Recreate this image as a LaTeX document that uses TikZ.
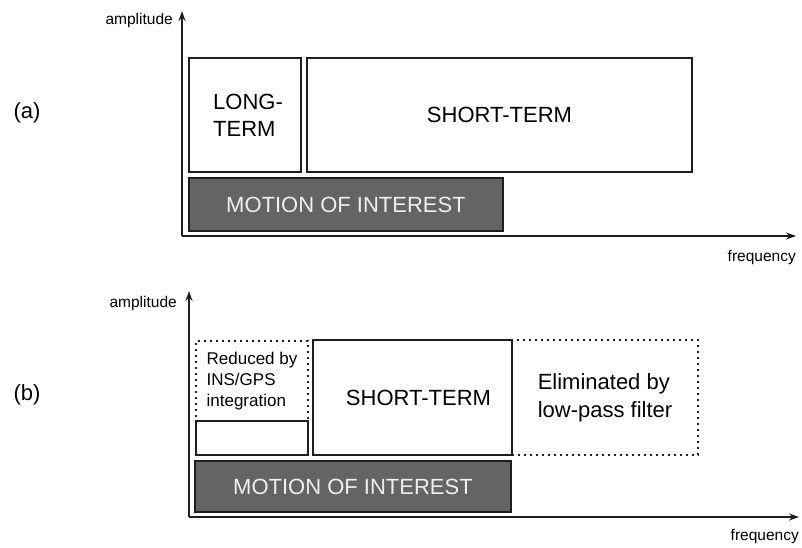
\documentclass[tikz,border=0pt]{standalone}
\usepackage{fontspec}
\setmainfont{Liberation Sans}
\usetikzlibrary{arrows.meta}
\definecolor{boxline}{HTML}{1E1E1E}
\definecolor{motionfill}{HTML}{646464}
\definecolor{motiontext}{HTML}{F0F0F0}
\begin{document}
\begin{tikzpicture}[x=1pt,y=-1pt,
  band/.style={draw=boxline,line width=1.5pt,fill=white,inner sep=0pt,
    font=\fontsize{22}{27}\selectfont,align=center},
  dotband/.style={draw=boxline,line width=1.6pt,dash pattern=on 1.6pt off 4.4pt,
    inner sep=0pt},
  motion/.style={draw=boxline,line width=1.5pt,fill=motionfill,text=motiontext,
    inner sep=0pt,font=\fontsize{22}{27}\selectfont},
  axis/.style={draw=boxline,line width=1.5pt,-{Stealth[length=10pt,width=7pt]}},
  axlabel/.style={font=\fontsize{15.5}{19}\selectfont,inner sep=0pt},
  panel/.style={font=\fontsize{22}{26}\selectfont,inner sep=0pt}]
\useasboundingbox (0,0) rectangle (802,547);

% ---------- panel (a) ----------
\node[panel] (pa) at (27,113) {(a)};
\coordinate (oa) at (182,236);
\coordinate (ya) at (182,11);
\coordinate (xa) at (796,236);
\draw[axis] (oa) -- (ya);
\draw[axis] (oa) -- (xa);
\node[axlabel,anchor=east] (ampa) at (173,20) {amplitude};
\node[axlabel,anchor=east] (freqa) at (796,257) {frequency};

\node[band,minimum width=112,minimum height=114,align=left] (longa) at (245,115)
  {\hspace*{6pt}LONG-\\\hspace*{6pt}TERM};
\node[band,minimum width=385,minimum height=114] (shorta) at (499.5,115) {SHORT-TERM};
\node[motion,minimum width=314,minimum height=53] (mota) at (346,204.5)
  {MOTION OF INTEREST};

% ---------- panel (b) ----------
\node[panel] (pb) at (27,395) {(b)};
\coordinate (ob) at (189,517);
\coordinate (yb) at (189,291);
\coordinate (xb) at (799,517);
\draw[axis] (ob) -- (yb);
\draw[axis] (ob) -- (xb);
\node[axlabel,anchor=east] (ampb) at (177,303) {amplitude};
\node[axlabel,anchor=east] (freqb) at (799,536) {frequency};

\node[dotband,minimum width=112,minimum height=80,align=left,
  font=\fontsize{17}{21}\selectfont] (redb) at (252,381)
  {Reduced by\\INS/GPS\\integration};
\node[band,minimum width=112,minimum height=34] (smallb) at (252,438) {};
\node[band,minimum width=199,minimum height=115] (shortb) at (412.5,397.5)
  {\hspace*{12pt}SHORT-TERM};
\node[dotband,minimum width=186,minimum height=115,align=left,
  font=\fontsize{22}{28}\selectfont] (elimb) at (605,397.5)
  {Eliminated by\\low-pass filter};
\node[motion,minimum width=316,minimum height=51] (motb) at (353,486.5)
  {MOTION OF INTEREST};
\end{tikzpicture}
\end{document}
